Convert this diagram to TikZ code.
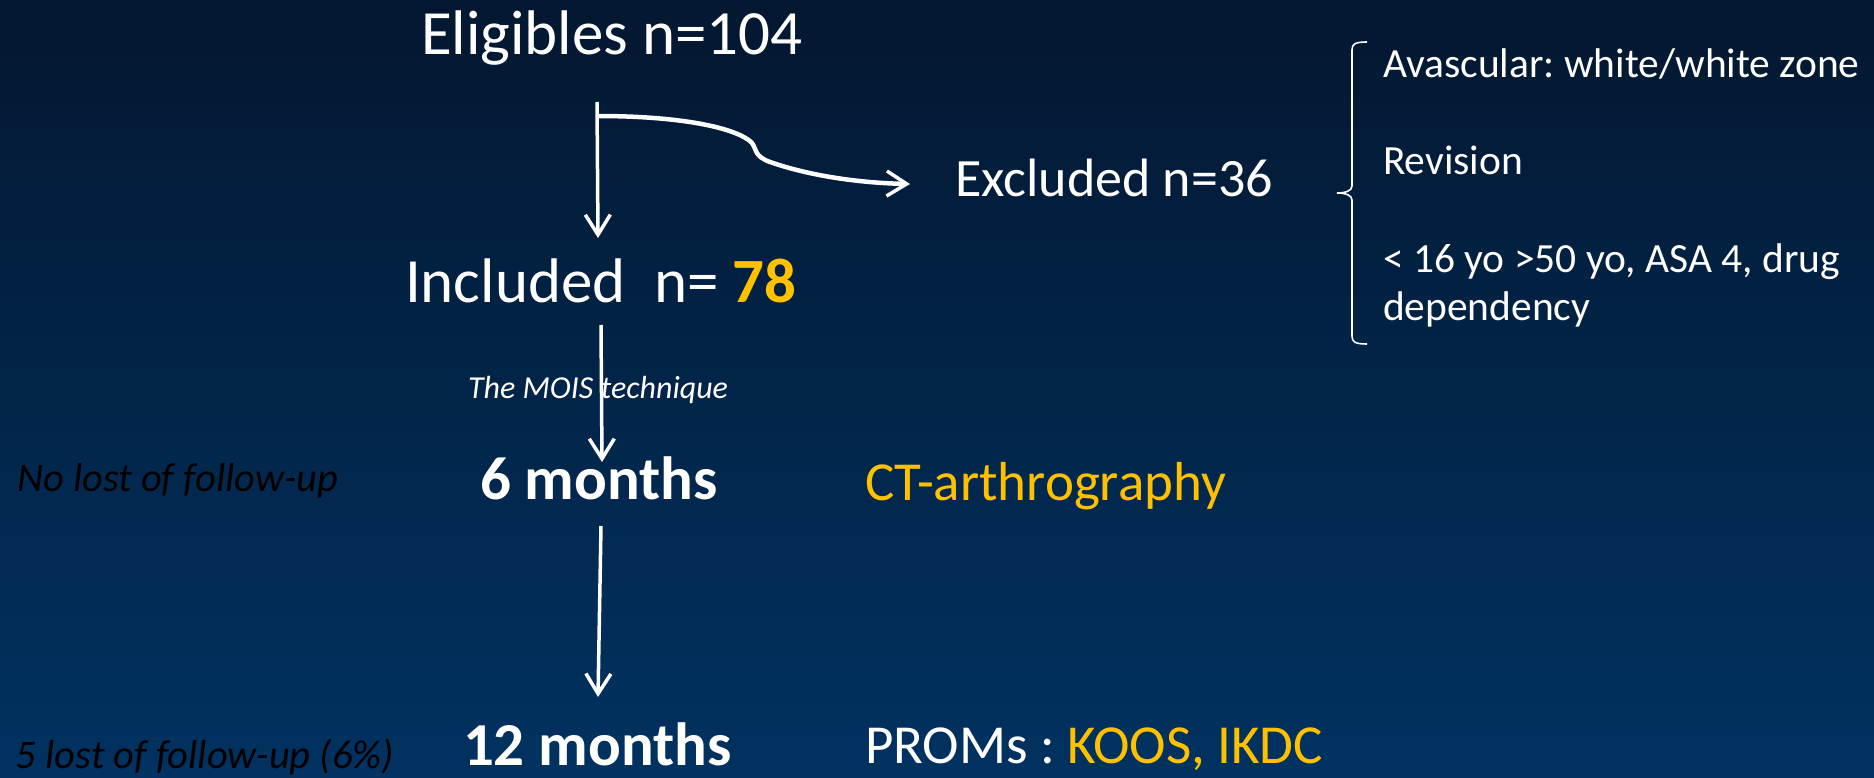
\documentclass[tikz,border=0pt]{standalone}
\usepackage{fontspec}
\setmainfont{Carlito}
\usetikzlibrary{arrows.meta}
\definecolor{bgtop}{RGB}{3,23,48}
\definecolor{bgbot}{RGB}{1,50,97}
\definecolor{gold}{RGB}{255,192,0}
\frenchspacing
\tikzset{
  txt/.style={anchor=base west, inner sep=0pt, outer sep=0pt, text=white},
  big/.style={txt, font=\fontsize{63}{75}\selectfont},
  mid/.style={txt, font=\fontsize{55}{66}\selectfont},
  small/.style={txt, font=\fontsize{41.5}{50}\selectfont},
  bold/.style={txt, font=\fontsize{61}{73}\selectfont\bfseries},
  note/.style={txt, text=black, font=\fontsize{40.5}{48}\selectfont\itshape},
  arr/.style={draw=white, line width=3.5pt, -{Straight Barb[length=20pt, width=25pt, line width=3.5pt]}},
  bracestyle/.style={draw=white, line width=1.6pt}
}
\begin{document}
\begin{tikzpicture}[x=1pt,y=-1pt]
\shade[top color=bgtop, bottom color=bgbot] (0,0) rectangle (1874,778);
\useasboundingbox (0,0) rectangle (1874,778);

\node[big] (elig) at (421,55) {Eligibles n=104};
\node[big] (incl) at (405,302) {Included\ \ n= {\bfseries\color{gold}78}};
\node[txt, font=\fontsize{54}{65}\selectfont] (excl) at (955,197) {Excluded n=36};

\node[small] (av) at (1383,78) {Avascular: white/white zone};
\node[small] (rev) at (1383,175) {Revision};
\node[small] (age) at (1383,272) {< 16 yo >50 yo, ASA 4, drug};
\node[small] (dep) at (1383,320) {dependency};

\node[txt, font=\fontsize{32}{38}\selectfont\itshape] (mois) at (468,398) {The MOIS technique};
\node[bold] (six) at (480,499) {6 months};
\node[bold] (twelve) at (463,765) {12 months};

\node[note] (nolost) at (17,491) {No lost of follow-up};
\node[note] (lost5) at (16,768) {5 lost of follow-up (6\%)};

\node[mid, text=gold] (ct) at (865,500) {CT-arthrography};
\node[mid] (proms) at (865,763) {PROMs : {\color{gold}KOOS, IKDC}};

% connectors
\coordinate (e1) at (597,102);
\coordinate (i1) at (598,238);
\coordinate (b1) at (597,116);
\coordinate (x1) at (910,184);
\coordinate (i2) at (601,325);
\coordinate (s1) at (602,462);
\coordinate (s2) at (601,526);
\coordinate (t1) at (598,697);

\draw[arr] (e1) -- (i1);
\draw[arr, line width=4.5pt] (b1) .. controls (690,116) and (740,130) .. (752,143)
   .. controls (757,150) and (754,156) .. (770,162)
   .. controls (810,176) and (860,183) .. (x1);
\draw[arr] (i2) -- (s1);
\draw[arr] (s2) -- (t1);

% brace
\draw[bracestyle] (1367,42) .. controls (1355,42) and (1352,44) .. (1352,50) -- (1352,186)
  .. controls (1352,191) and (1345,193) .. (1337,193)
  .. controls (1345,193) and (1352,195) .. (1352,200) -- (1352,336)
  .. controls (1352,342) and (1355,344) .. (1367,344);
\end{tikzpicture}
\end{document}
